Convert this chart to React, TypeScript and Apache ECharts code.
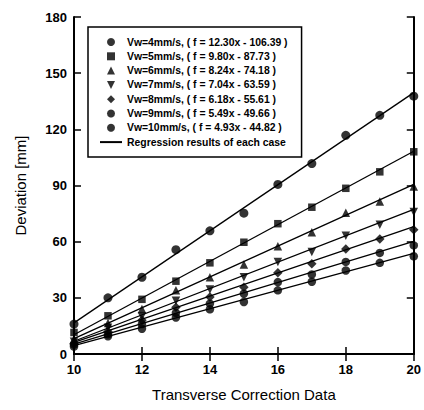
import React, { useEffect, useRef } from "react";
import * as echarts from "echarts";

const xValues = [10, 11, 12, 13, 14, 15, 16, 17, 18, 19, 20];

const seriesNames = [
  "Vw=4mm/s, ( f = 12.30x - 106.39 )",
  "Vw=5mm/s, ( f = 9.80x - 87.73 )",
  "Vw=6mm/s, ( f = 8.24x - 74.18 )",
  "Vw=7mm/s, ( f = 7.04x - 63.59 )",
  "Vw=8mm/s, ( f = 6.18x - 55.61 )",
  "Vw=9mm/s, ( f = 5.49x - 49.66 )",
  "Vw=10mm/s, ( f = 4.93x - 44.82 )",
];

const v4 = [16, 30, 41, 55.7, 65.8, 75.2, 90.6, 101.7, 116.8, 127.5, 137.7];
const v5 = [11.5, 20.4, 29.2, 38.9, 48.7, 59.7, 69.6, 78.4, 88.5, 97.3, 108];
const v6 = [8, 16.5, 24, 34, 41, 47.8, 57.5, 65, 75.4, 81.4, 89.5];
const v7 = [6.5, 14, 20, 28.5, 34.5, 41, 49.2, 54.5, 63.2, 69, 75.8];
const v8 = [5.5, 12, 18, 25, 30.5, 35.7, 43.4, 48.2, 56.1, 61.4, 66.4];
const v9 = [5, 10.5, 16, 22, 26.9, 32.2, 38.4, 42.5, 49.2, 54, 58];
const v10 = [4, 9.5, 13.5, 19.5, 23.9, 27.8, 34, 38.6, 44.6, 48.7, 52.2];
const seriesValues = [v4, v5, v6, v7, v8, v9, v10];

const slopes = [12.3, 9.8, 8.24, 7.04, 6.18, 5.49, 4.93];
const intercepts = [-106.39, -87.73, -74.18, -63.59, -55.61, -49.66, -44.82];

const regressionName = "Regression results of each case";

const xTicks = [10, 12, 14, 16, 18, 20];
const yTicks = [0, 30, 60, 90, 120, 150, 180];

const DOWN_TRI = "path://M0,0 L10,0 L5,10 Z";
const UP_TRI = "path://M5,0 L10,10 L0,10 Z";
const SQUARE = "path://M0,0 L10,0 L10,10 L0,10 Z";
const DIAMOND = "path://M5,0 L10,5 L5,10 L0,5 Z";
const plotSymbols = ["circle", "rect", "triangle", DOWN_TRI, "diamond", "circle", "circle"];
const legendIcons = ["circle", SQUARE, UP_TRI, DOWN_TRI, DIAMOND, "circle", "circle"];
const symbolSizes = [9, 7.5, 8.5, 8.5, 9.5, 8.5, 8.5];

export default function App() {
  const ref = useRef<HTMLDivElement>(null);
  useEffect(() => {
    if (!ref.current) return;
    const chart = echarts.init(ref.current, null, { renderer: "svg" });
    const font = "'Liberation Sans', Arial, sans-serif";
    const axisCommon = {
      min: xTicks[0],
      max: xTicks[xTicks.length - 1],
      interval: 2,
    };
    const scatterSeries = seriesValues.map((vals, i) => ({
      type: "scatter",
      name: seriesNames[i],
      data: vals.map((v, j) => [xValues[j], v]),
      symbol: plotSymbols[i],
      symbolSize: symbolSizes[i],
      itemStyle: { color: "#000" },
      z: 3,
    }));
    const lineSeries = slopes.map((s, i) => ({
      type: "line",
      name: regressionName,
      data: [xTicks[0], xTicks[xTicks.length - 1]].map((x) => [x, s * x + intercepts[i]]),
      symbol: "none",
      lineStyle: { color: "#000", width: 1.3 },
      itemStyle: { color: "#000" },
      z: 2,
    }));
    chart.setOption({
      animation: false,
      backgroundColor: "#fff",
      grid: { left: 74, right: 5, top: 17, bottom: 56 },
      legend: {
        orient: "vertical",
        left: 88,
        top: 27,
        padding: [9, 14, 9, 11],
        borderColor: "#000",
        borderWidth: 1.5,
        backgroundColor: "#fff",
        itemWidth: 22,
        itemHeight: 8,
        itemGap: 2.3,
        symbolKeepAspect: true,
        selectedMode: false,
        textStyle: {
          fontFamily: font,
          fontWeight: "bold",
          fontSize: 10.4,
          lineHeight: 12,
          color: "#000",
        },
        data: [
          ...seriesNames.map((n, i) => ({ name: n, icon: legendIcons[i] })),
          { name: regressionName, itemStyle: { opacity: 0 } },
        ],
      },
      xAxis: [
        {
          type: "value",
          ...axisCommon,
          name: "Transverse Correction Data",
          nameLocation: "middle",
          nameGap: 33,
          nameTextStyle: { fontFamily: font, fontSize: 15, color: "#000" },
          axisLine: { show: true, lineStyle: { color: "#000", width: 2 } },
          axisTick: { show: true, inside: true, length: 7, lineStyle: { color: "#000", width: 1.5 } },
          axisLabel: {
            margin: 9,
            fontFamily: font,
            fontWeight: "bold",
            fontSize: 13,
            color: "#000",
          },
          splitLine: { show: false },
        },
        {
          type: "value",
          ...axisCommon,
          position: "top",
          axisLine: { show: true, lineStyle: { color: "#000", width: 2 } },
          axisTick: { show: true, inside: true, length: 7, lineStyle: { color: "#000", width: 1.5 } },
          axisLabel: { show: false },
          splitLine: { show: false },
        },
      ],
      yAxis: [
        {
          type: "value",
          min: yTicks[0],
          max: yTicks[yTicks.length - 1],
          interval: 30,
          name: "Deviation [mm]",
          nameLocation: "middle",
          nameGap: 46,
          nameTextStyle: { fontFamily: font, fontSize: 15, color: "#000" },
          axisLine: { show: true, lineStyle: { color: "#000", width: 2 } },
          axisTick: { show: true, inside: true, length: 7, lineStyle: { color: "#000", width: 1.5 } },
          axisLabel: {
            margin: 7,
            fontFamily: font,
            fontWeight: "bold",
            fontSize: 13,
            color: "#000",
          },
          splitLine: { show: false },
        },
        {
          type: "value",
          min: yTicks[0],
          max: yTicks[yTicks.length - 1],
          interval: 30,
          position: "right",
          axisLine: { show: true, lineStyle: { color: "#000", width: 2 } },
          axisTick: { show: true, inside: true, length: 7, lineStyle: { color: "#000", width: 1.5 } },
          axisLabel: { show: false },
          splitLine: { show: false },
        },
      ],
      series: [...lineSeries, ...scatterSeries],
    });
    return () => chart.dispose();
  }, []);
  return (
    <div
      ref={ref}
      style={{ position: "fixed", left: 0, top: 0, width: 424, height: 410, background: "#fff" }}
    />
  );
}
